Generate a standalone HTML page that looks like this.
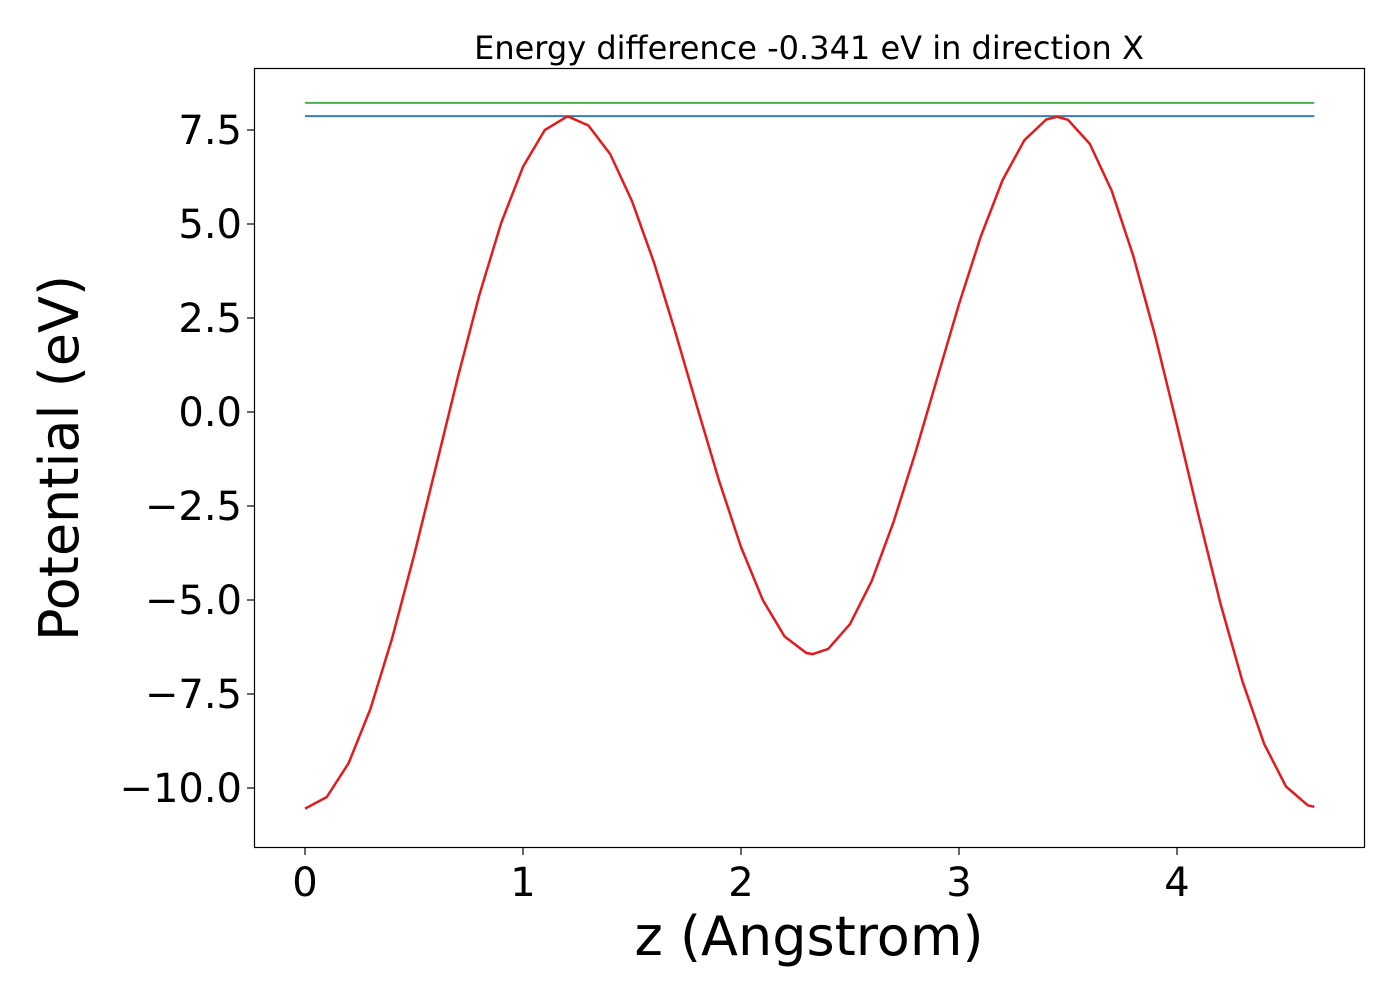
<!DOCTYPE html>
<html><head><meta charset="utf-8"><style>
body{margin:0;background:#fff;}
svg text{font-family:"DejaVu Sans","Liberation Sans",sans-serif;fill:#000;}
</style></head><body>
<svg id="chart" width="1400" height="1000" xmlns="http://www.w3.org/2000/svg">
<rect width="1400" height="1000" fill="#fff"/>
<text x="809" y="59" font-size="32" text-anchor="middle">Energy difference -0.341 eV in direction X</text>
<g id="plot"></g>
<rect x="254.5" y="68.5" width="1110" height="779" fill="none" stroke="#000" stroke-width="1.2"/>
<text x="809" y="955" font-size="54" text-anchor="middle">z (Angstrom)</text>
<text transform="translate(78,458) rotate(-90)" font-size="54" text-anchor="middle">Potential (eV)</text>
</svg>
<script>
const zValues=[0,0.1,0.2,0.3,0.4,0.5,0.6,0.7,0.8,0.9,1.0,1.1,1.2,1.21,1.3,1.4,1.5,1.6,1.7,1.8,1.9,2.0,2.1,2.2,2.3,2.33,2.4,2.5,2.6,2.7,2.8,2.9,3.0,3.1,3.2,3.3,3.4,3.45,3.5,3.6,3.7,3.8,3.9,4.0,4.1,4.2,4.3,4.4,4.5,4.6,4.63];
const potential=[-10.55,-10.24,-9.34,-7.90,-6.01,-3.82,-1.47,0.90,3.12,5.03,6.52,7.50,7.85,7.85,7.62,6.86,5.61,3.99,2.10,0.11,-1.84,-3.59,-5.00,-5.97,-6.41,-6.44,-6.30,-5.64,-4.49,-2.92,-1.08,0.90,2.87,4.67,6.17,7.23,7.78,7.85,7.77,7.13,5.89,4.14,2.02,-0.35,-2.78,-5.11,-7.16,-8.83,-9.96,-10.46,-10.50];
const levelValues=[8.22,7.87];
const levelNames=['level-green','level-blue'];
const levelColors=['#4daf4a','#377eb8'];
const xTicks=[0,1,2,3,4];
const yTicks=[7.5,5.0,2.5,0.0,-2.5,-5.0,-7.5,-10.0];
const xMin=0,xMax=4.63;
const X=v=>305+v*218;
const Y=v=>412-v*37.6;
const NS='http://www.w3.org/2000/svg';
const plot=document.getElementById('plot');
function mk(tag,attrs){const e=document.createElementNS(NS,tag);for(const k in attrs)e.setAttribute(k,attrs[k]);plot.appendChild(e);return e;}
xTicks.forEach(t=>{
  const l=mk('line',{x1:X(t),x2:X(t),y1:848,y2:855,stroke:'#000','stroke-width':1.2});
  
  
  const tx=mk('text',{x:X(t),y:896,'font-size':40,'text-anchor':'middle'});
  tx.textContent=String(t);
  
  
});
yTicks.forEach(t=>{
  const l=mk('line',{x1:247,x2:254,y1:Y(t),y2:Y(t),stroke:'#000','stroke-width':1.2});
  
  
  const tx=mk('text',{x:242,y:Y(t)+14,'font-size':40,'text-anchor':'end'});
  tx.textContent=t.toFixed(1).replace('-','\u2212');
  
  
});
levelValues.forEach((v,i)=>{
  const l=mk('line',{x1:X(xMin),x2:X(xMax),y1:Y(v),y2:Y(v),stroke:levelColors[i],'stroke-width':2});
  
  
});
const d=zValues.map((z,i)=>(i?'L':'M')+X(z).toFixed(1)+' '+Y(potential[i]).toFixed(1)).join(' ');
const p=mk('path',{d:d,fill:'none',stroke:'#e41a1c','stroke-width':2.5,'stroke-linejoin':'round'});


</script>
</body></html>
